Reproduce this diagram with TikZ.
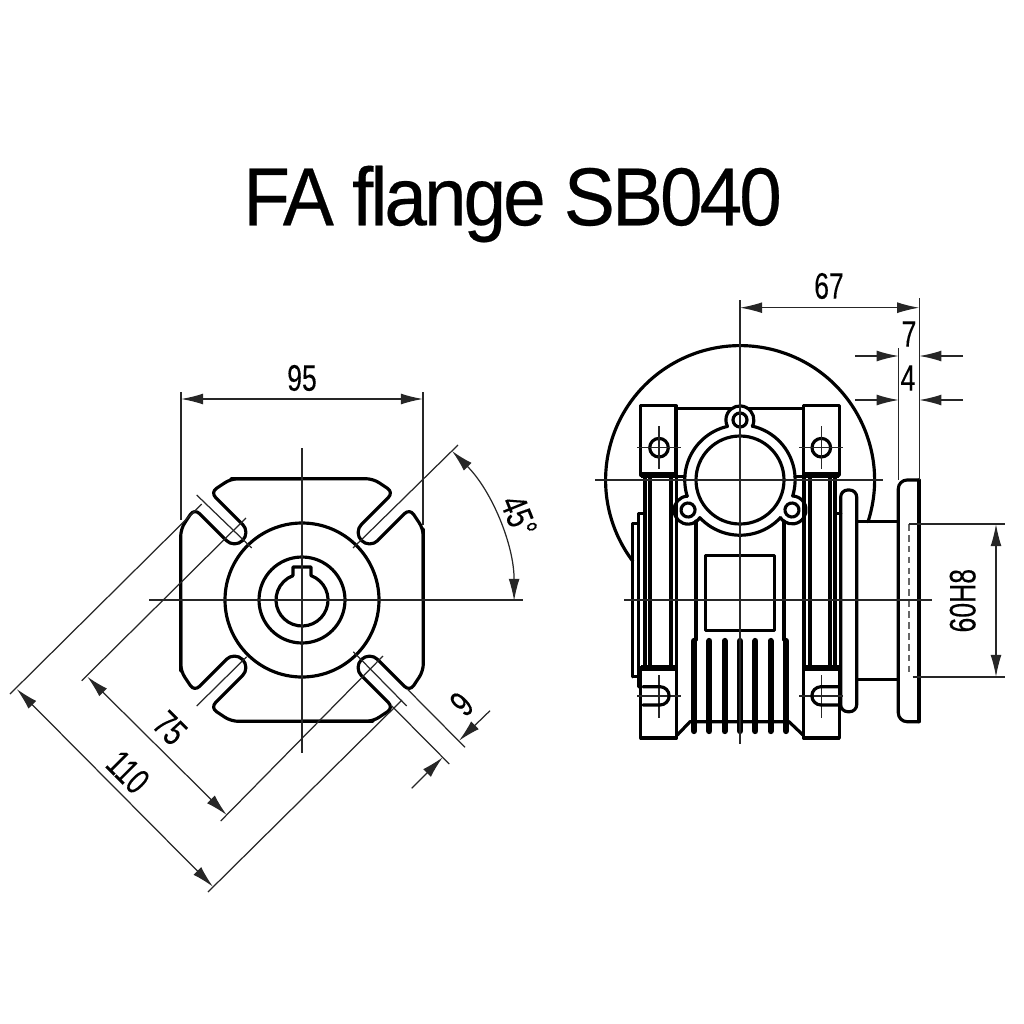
\documentclass[tikz,border=0pt]{standalone}
\usepackage{fontspec}
\usetikzlibrary{arrows.meta}
\newfontfamily\titlefont[FakeStretch=0.93, LetterSpace=-3.6, FakeBold=0.3]{Liberation Sans}
\newfontfamily\dimfont[FakeStretch=0.72, FakeBold=0.15]{Liberation Sans}
\tikzset{
  outline/.style = {line width = 0.9pt, line cap = round, line join = round},
  band/.style = {line width = 1.5pt},
  fin/.style = {line width = 1.8pt, line cap = round},
  thinline/.style = {line width = 0.35pt, black!85},
  dimboth/.style = {thinline, {Latex[length = 6.3pt, width = 3.1pt]}-{Latex[length = 6.3pt, width = 3.1pt]}},
  dimto/.style = {thinline, -{Latex[length = 6.3pt, width = 3.1pt]}},
  dimlabel/.style = {inner sep = 0 pt, outer sep = 0 pt, font = \dimfont\fontsize{10.5}{12}\selectfont},
}

\begin{document}
\begin{tikzpicture}[x = 0.1mm, y = -0.1mm]
  \useasboundingbox (0, 0) rectangle (1024, 1024);
  \node[inner sep = 0 pt, outer sep = 0 pt, font = \titlefont\fontsize{23.4}{26}\selectfont] (title) at (512.5, 204) {FA flange SB040};

  % flange seen from the front
  \begin{scope}[shift = {(302, 600)}]
    \foreach \a in {0, 90, 180, 270} {
      \draw[outline, rotate = \a, rounded corners = 2pt] (-71, -121.3) -- (71, -121.3) -- (91.5, -107.7) -- (59.5, -75.7);
      \draw[outline, rotate = \a] (59.5, -75.7) arc[start angle = 225, delta angle = -180, radius = 11.5];
      \draw[outline, rotate = \a, rounded corners = 2pt] (75.7, -59.5) -- (107.7, -91.5) -- (121.3, -71) -- (121.3, 0);
    }
    \draw[outline] (0, 0) circle (77);
    \draw[outline] (0, 0) circle (43);
    \draw[outline] (-9, -24.4) -- (-9, -33) -- (9, -33) -- (9, -24.4)
      arc[start angle = -69.8, delta angle = 319.6, radius = 26];
  \end{scope}
  \draw[thinline] (302, 448) -- (302, 753);
  \draw[thinline] (149, 600) -- (523, 600);

  % dimensions of the flange
  \draw[thinline] (181, 392) -- (181, 520);
  \draw[thinline] (423, 392) -- (423, 525);
  \draw[dimboth] (181, 399) -- (423, 399);
  \node[dimlabel] (width95) at (302, 378) {95};
  \draw[thinline] (458, 445) -- (353, 548);
  \draw[dimboth] (452, 451) arc[start angle = -45, end angle = 0, radius = 212];
  \node[dimlabel, rotate = -68] (angle45) at (519, 516) {45°};
  \draw[thinline] (10, 694) -- (201.7, 504);
  \draw[thinline] (196.7, 495) -- (251.7, 548);
  \draw[thinline] (81.7, 680.7) -- (246, 518);
  \draw[thinline] (196.7, 706) -- (246.7, 656.7);
  \draw[thinline] (220.7, 821) -- (383, 656);
  \draw[thinline] (208, 892) -- (402, 700);
  \draw[thinline] (353.3, 651.7) -- (406.7, 706);
  \draw[thinline] (407.7, 689.5) -- (465, 747.3);
  \draw[thinline] (391.5, 705.7) -- (449.3, 764);
  \draw[dimboth] (16.7, 689) -- (213, 886.7);
  \draw[dimboth] (87.3, 676.7) -- (226.7, 815);
  \draw[dimto] (490, 710.7) -- (459, 740.7);
  \draw[dimto] (411.7, 788.3) -- (442.7, 757.3);
  \node[dimlabel, rotate = -45] (slot75) at (170, 728) {75};
  \node[dimlabel, rotate = -45] (outer110) at (128, 772) {110};
  \node[dimlabel, rotate = 45] (slot9) at (461.7, 704) {9};

  % gearbox seen from the side
  \draw[outline] (868, 521.7) arc[start angle = 18, delta angle = -235.1, radius = 134.5];
  \draw[outline] (640.7, 405.7) rectangle (676, 475);
  \draw[outline] (803.3, 405.7) rectangle (839.3, 475);
  \draw[outline] (640.7, 668) rectangle (676.7, 738);
  \draw[outline] (803.3, 668) rectangle (839.3, 738);
  \draw[band] (640.7, 475) -- (676, 475);
  \draw[band] (803.3, 475) -- (839.3, 475);
  \draw[band] (640.7, 668) -- (676.7, 668);
  \draw[band] (803.3, 668) -- (839.3, 668);
  \draw[outline] (676, 408.3) -- (732, 408.3);
  \draw[outline] (748, 408.3) -- (803.3, 408.3);
  \draw[outline] (676, 476.7) -- (685, 476.7);
  \draw[outline] (795, 476.7) -- (803.3, 476.7);
  \foreach \x in {645, 650, 671, 804, 810, 830, 835} {
    \draw[outline] (\x, 475) -- (\x, 668);
  }
  \draw[outline] (676.5, 475) -- (676.5, 668);
  \draw[outline] (632.7, 676.7) -- (632.7, 523.3) -- (638.3, 523.3) -- (638.3, 513.3) -- (645, 513.3);
  \draw[outline] (632.7, 676.7) -- (640, 676.7);
  \draw[outline] (638.3, 523.3) -- (638.3, 686.7);
  \draw[outline] (835, 513.3) -- (840.7, 513.3);
  \draw[outline, rounded corners = 2pt] (840.7, 600) -- (840.7, 490) -- (856.7, 490) -- (856.7, 711.7) -- (840.7, 711.7) -- (840.7, 600);
  \draw[outline] (858, 521.7) -- (898, 521.7);
  \draw[outline] (858, 679.3) -- (898, 679.3);
  \draw[outline, rounded corners = 2.5pt] (919, 721.7) -- (898.3, 721.7) -- (898.3, 480) -- (919, 480);
  \draw[outline] (919, 480) -- (919, 721.7);
  \draw[line width = 0.5pt, black!60, dash pattern = on 1.9pt off 1.2pt] (909, 524) -- (909, 675);

  % three lobed flange
  \begin{scope}[shift = {(740, 480)}]
    \draw[outline] (0, 0) circle (44);
    \foreach \a in {90, 210, 330} {
      \draw[outline, rotate = \a] (53.6, 12.3) arc[start angle = 117.5, delta angle = -235, radius = 14]
        arc[start angle = -12.9, delta angle = -94.2, radius = 55];
      \draw[outline, rotate = \a] (60, 0) circle (7);
    }
  \end{scope}

  % holes and slots of the feet
  \foreach \x in {659, 821.3} {
    \draw[outline] (\x, 447.7) circle (9.3);
    \draw[thinline] (\x - 22, 447.7) -- (\x + 22, 447.7);
    \draw[thinline] (\x, 426) -- (\x, 469.3);
    \draw[thinline] (\x - 22, 696) -- (\x + 22, 696);
    \draw[thinline] (\x, 675) -- (\x, 717.7);
  }
  \draw[outline] (643, 686.7) -- (660, 686.7) arc[start angle = -90, delta angle = 180, radius = 9.15] -- (643, 705);
  \draw[outline] (839, 686.7) -- (821, 686.7) arc[start angle = -90, delta angle = -180, radius = 9.15] -- (839, 705);

  % body and fins
  \draw[outline] (705.7, 555.7) rectangle (774.3, 630.7);
  \draw[outline] (696, 521) -- (696, 640);
  \draw[outline] (784, 521) -- (784, 640);
  \foreach \x in {694, 709.3, 724.7, 740, 755.3, 770.7, 786} {
    \draw[fin] (\x, 641) -- (\x, 731);
  }
  \draw[outline] (677.3, 735) -- (690, 721.7) -- (789, 721.7) -- (803, 735);

  % centre lines
  \draw[thinline] (740, 300) -- (740, 744);
  \draw[thinline] (595, 480) -- (883, 480);
  \draw[thinline] (624, 600) -- (932, 600);

  % dimensions of the gearbox
  \draw[thinline] (919.3, 298) -- (919.3, 480);
  \draw[thinline] (898.7, 348) -- (898.7, 480);
  \draw[dimboth] (740, 307.7) -- (919.3, 307.7);
  \node[dimlabel] (length67) at (829, 286) {67};
  \draw[dimto] (855, 356) -- (898.7, 356);
  \draw[dimto] (963, 356) -- (919.3, 356);
  \draw[dimto] (855, 400) -- (898.7, 400);
  \draw[dimto] (963, 400) -- (919.3, 400);
  \node[dimlabel] (offset7) at (909, 334) {7};
  \node[dimlabel] (offset4) at (908, 378) {4};
  \draw[thinline] (909, 524) -- (1005, 524);
  \draw[thinline] (912.7, 677) -- (1005, 677);
  \draw[dimboth] (996, 524) -- (996, 677);
  \node[dimlabel, rotate = 90] (bore60) at (962.7, 600.7) {60H8};
\end{tikzpicture}
\end{document}
